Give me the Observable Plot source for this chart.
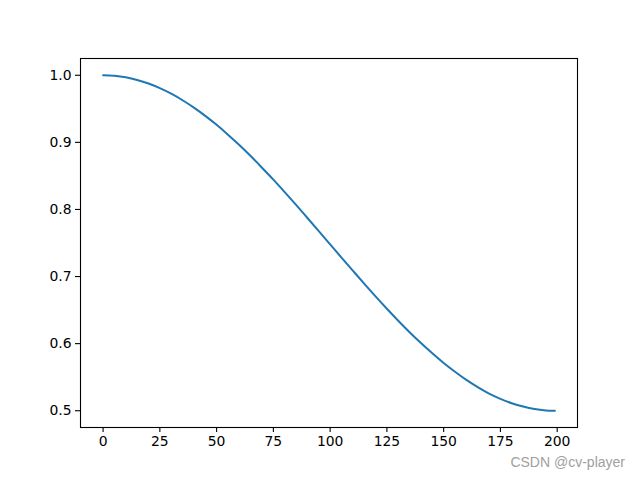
<!DOCTYPE html>
<html>
<head>
<meta charset="utf-8">
<script src="https://cdn.jsdelivr.net/npm/d3@7"></script>
<script src="https://cdn.jsdelivr.net/npm/@observablehq/plot@0.6"></script>
<style>
  html, body { margin: 0; padding: 0; background: #fff; }
  #wrap { position: relative; width: 640px; height: 480px; }
  #wm { position: absolute; right: 15px; top: 454px; font-family: "Liberation Sans", Arial, sans-serif; font-size: 14px; color: #a0a0a0; }
</style>
</head>
<body>
<div id="wrap"><div id="chart"></div><div id="wm">CSDN @cv-player</div></div>
<script>
const steps = [0, 5, 10, 15, 20, 25, 30, 35, 40, 45, 50, 55, 60, 65, 70, 75, 80, 85, 90, 95, 100,
               105, 110, 115, 120, 125, 130, 135, 140, 145, 150, 155, 160, 165, 170, 175, 180, 185, 190, 195, 199];
const values = [1.0000, 0.9992, 0.9969, 0.9930, 0.9877, 0.9808, 0.9725, 0.9628, 0.9518, 0.9395, 0.9261, 0.9115, 0.8961, 0.8796, 0.8622, 0.8444, 0.8258, 0.8068, 0.7873, 0.7677, 0.7480,
                0.7283, 0.7088, 0.6894, 0.6704, 0.6520, 0.6342, 0.6171, 0.6009, 0.5856, 0.5712, 0.5581, 0.5459, 0.5351, 0.5255, 0.5177, 0.5112, 0.5062, 0.5025, 0.5005, 0.5000];
const xTicks = [0, 25, 50, 75, 100, 125, 150, 175, 200];
const yTicks = [0.5, 0.6, 0.7, 0.8, 0.9, 1.0];

const data = steps.map((s, i) => ({x: s, y: values[i]}));

const chart = Plot.plot({
  width: 640,
  height: 480,
  marginLeft: 80,
  marginRight: 63,
  marginTop: 58,
  marginBottom: 53,
  style: {fontFamily: "DejaVu Sans, sans-serif", fontSize: "13.9px", color: "#000", background: "#fff"},
  x: {domain: [-9.95, 208.95]},
  y: {domain: [0.475, 1.025]},
  marks: [
    Plot.axisX({ticks: xTicks, tickSize: 5, tickPadding: 4, tickFormat: d3.format("d"), label: null, strokeWidth: 1.1}),
    Plot.axisY({ticks: yTicks, tickSize: 5, tickPadding: 4, tickFormat: d3.format(".1f"), label: null, strokeWidth: 1.1}),
    Plot.line(data, {x: "x", y: "y", stroke: "#1f77b4", strokeWidth: 2, curve: "monotone-x"}),
    Plot.frame({stroke: "#000", strokeWidth: 1.1})
  ]
});
document.getElementById("chart").appendChild(chart);
</script>
</body>
</html>
